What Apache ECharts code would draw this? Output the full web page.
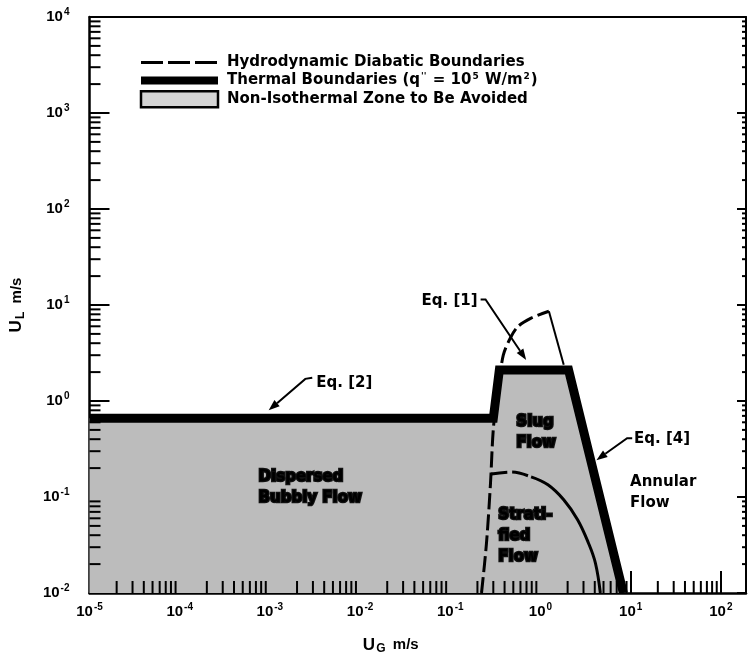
<!DOCTYPE html>
<html>
<head>
<meta charset="utf-8">
<script src="https://cdn.jsdelivr.net/npm/echarts@6/dist/echarts.min.js"></script>
<style>html,body{margin:0;background:#fff}#container{width:750px;height:660px}</style>
</head>
<body>
<div id="container"></div>
<script>
var FONT = '"Liberation Sans", Arial, sans-serif';
var WIDE = '"DejaVu Sans", sans-serif';
var X_MIN = 1e-5, X_MAX = 190, Y_MIN = 0.01, Y_MAX = 1e4;

// thermal boundary, q'' = 1e5 W/m2
var thermalUG = [1e-5, 0.30, 0.35, 2.05, 8.3];
var thermalUL = [0.66, 0.66, 2.1, 2.1, 0.01];

// hydrodynamic diabatic boundaries
var hydroUG = [0.222, 0.252, 0.279, 0.301, 0.341, 0.387, 0.462, 0.566, 0.787, 1.24];
var hydroUL = [0.01, 0.033, 0.137, 0.53, 1.37, 3.0, 4.5, 6.0, 7.3, 8.6];
var hookUG = [1.24, 1.81];
var hookUL = [8.6, 2.38];
var stratDashUG = [0.285, 0.475, 0.787];
var stratDashUL = [0.174, 0.182, 0.162];
var stratUG = [0.787, 1.21, 1.81, 2.58, 3.41, 4.07, 4.61];
var stratUL = [0.162, 0.134, 0.0936, 0.058, 0.033, 0.0204, 0.01];

// equation call-outs
var eqNames = ['Eq. [1]', 'Eq. [2]', 'Eq. [4]'];
var eqTextUG = [0.201, 0.00327, 10.9];
var eqTextUL = [10.9, 1.55, 0.40];
var eqAlign = ['right', 'left', 'left'];
var eqLeaders = [
  [[0.217, 11.4], [0.246, 11.4], [0.694, 2.68]],
  [[0.00295, 1.75], [0.00247, 1.70], [0.00097, 0.80]],
  [[10.4, 0.41], [9.13, 0.41], [4.17, 0.242]]
];

// flow regime labels
var regionNames = ['Dispersed\nBubbly Flow', 'Slug\nFlow', 'Strati-\nfied\nFlow', 'Annular\nFlow'];
var regionUG = [0.00075, 0.54, 0.341, 9.85];
var regionUL = [0.124, 0.47, 0.039, 0.11];
var regionDark = [true, true, true, false];

function zip(a, b) {
  return a.map(function (v, i) { return [v, b[i]]; });
}

// minor log ticks (2..9 per decade)
var tickData = [];
for (var k = -5; k <= 2; k++) {
  for (var m = 2; m <= 9; m++) {
    var v = m * Math.pow(10, k);
    if (v < X_MAX) tickData.push([v, Y_MIN, 0]);
  }
}
for (var k2 = -2; k2 <= 3; k2++) {
  for (var m2 = 2; m2 <= 9; m2++) {
    tickData.push([X_MIN, m2 * Math.pow(10, k2), 1]);
  }
}

function powLabel(value) {
  var e = Math.round(Math.log(value) / Math.LN10);
  if (Math.abs(Math.log(value) / Math.LN10 - e) > 1e-6) return '';
  return '{b|10}{s|' + e + '}';
}

var labelRich = {
  b: { fontFamily: FONT, fontWeight: 'bold', fontSize: 15, color: '#000', lineHeight: 20 },
  s: { fontFamily: FONT, fontWeight: 'bold', fontSize: 10, color: '#000', verticalAlign: 'top', lineHeight: 20, padding: [0, 0, 8, 1] }
};

var dom = document.getElementById('container');
var myChart = echarts.init(dom, null, { renderer: 'canvas' });
var option;

option = {
  animation: false,
  grid: { left: 84, right: 4, top: 17, bottom: 63 },
  legend: {
    orient: 'vertical',
    left: 137,
    top: 55,
    padding: 0,
    itemWidth: 77,
    itemHeight: 16,
    itemGap: 2,
    selectedMode: false,
    formatter: function (name) {
      if (name.indexOf('Thermal') === 0) {
        return 'Thermal Boundaries (q{s|\'\'} = 10{s|5} W/m{s|2})';
      }
      return name;
    },
    textStyle: {
      fontFamily: WIDE, fontWeight: 'bold', fontSize: 15, color: '#000', padding: [0, 0, 0, 4],
      rich: {
        s: { fontFamily: WIDE, fontWeight: 'bold', fontSize: 9, color: '#000', verticalAlign: 'top', padding: [0, 1, 8, 1] }
      }
    },
    data: [
      { name: 'Hydrodynamic Diabatic Boundaries', itemStyle: { opacity: 0 }, lineStyle: { width: 3, type: [22, 5], color: '#000' } },
      { name: 'Thermal Boundaries', itemStyle: { opacity: 0 }, lineStyle: { width: 8, color: '#000' } },
      { name: 'Non-Isothermal Zone to Be Avoided', icon: 'rect', itemStyle: { color: '#d4d4d4', borderColor: '#000', borderWidth: 2.5 } }
    ]
  },
  xAxis: [
    {
      type: 'log', min: X_MIN, max: X_MAX, logBase: 10,
      name: '{u|U}{sub|G} {m|m/s}',
      nameLocation: 'middle', nameGap: 42,
      nameTextStyle: {
        padding: [0, 54, 0, 0],
        rich: {
          u: { fontFamily: FONT, fontWeight: 'bold', fontSize: 17, color: '#000' },
          sub: { fontFamily: FONT, fontWeight: 'bold', fontSize: 12, color: '#000', padding: [8, 0, 0, 1] },
          m: { fontFamily: FONT, fontWeight: 'bold', fontSize: 15, color: '#000', padding: [0, 0, 0, 4] }
        }
      },
      axisLine: { lineStyle: { color: '#000', width: 2.5 } },
      axisTick: { inside: true, length: 22, lineStyle: { color: '#000', width: 2 } },
      axisLabel: { margin: 9, formatter: powLabel, rich: labelRich, showMaxLabel: false },
      splitLine: { show: false }
    },
    {
      type: 'log', min: X_MIN, max: X_MAX, position: 'top',
      axisLine: { lineStyle: { color: '#000', width: 2 } },
      axisTick: { show: false }, axisLabel: { show: false }, splitLine: { show: false }
    }
  ],
  yAxis: [
    {
      type: 'log', min: Y_MIN, max: Y_MAX, logBase: 10,
      name: '{u|U}{sub|L} {m|m/s}',
      nameLocation: 'middle', nameGap: 63, nameRotate: 90,
      nameTextStyle: {
        rich: {
          u: { fontFamily: FONT, fontWeight: 'bold', fontSize: 17, color: '#000' },
          sub: { fontFamily: FONT, fontWeight: 'bold', fontSize: 12, color: '#000', padding: [8, 0, 0, 1] },
          m: { fontFamily: FONT, fontWeight: 'bold', fontSize: 15, color: '#000', padding: [0, 0, 0, 5] }
        }
      },
      axisLine: { lineStyle: { color: '#000', width: 2.5 } },
      axisTick: { inside: true, length: 20, lineStyle: { color: '#000', width: 2 } },
      axisLabel: { margin: 20, formatter: powLabel, rich: labelRich },
      splitLine: { show: false }
    },
    {
      type: 'log', min: Y_MIN, max: Y_MAX, position: 'right',
      axisLine: { lineStyle: { color: '#000', width: 2 } },
      axisTick: { inside: true, length: 9, lineStyle: { color: '#000', width: 2 } },
      axisLabel: { show: false }, splitLine: { show: false }
    }
  ],
  series: [
    {
      name: 'Non-Isothermal Zone to Be Avoided',
      type: 'line', z: 1, symbol: 'none',
      data: zip(thermalUG, thermalUL),
      lineStyle: { width: 0, color: '#bcbcbc' },
      itemStyle: { color: '#bcbcbc' },
      areaStyle: { color: '#bcbcbc', opacity: 1 }
    },
    {
      name: 'Thermal Boundaries',
      type: 'line', z: 3, symbol: 'none',
      data: zip(thermalUG, thermalUL),
      lineStyle: { width: 9, color: '#000', join: 'miter' },
      itemStyle: { color: '#000' }
    },
    {
      name: 'Hydrodynamic Diabatic Boundaries',
      type: 'line', z: 4, symbol: 'none', smooth: 0.3,
      data: zip(hydroUG, hydroUL),
      lineStyle: { width: 3, color: '#000', type: [16, 5] },
      itemStyle: { color: '#000' }
    },
    {
      name: 'Hydrodynamic Diabatic Boundaries',
      type: 'line', z: 4, symbol: 'none', smooth: 0.4,
      data: zip(stratDashUG, stratDashUL),
      lineStyle: { width: 3, color: '#000', type: [16, 5] },
      itemStyle: { color: '#000' }
    },
    {
      name: 'stratified',
      type: 'line', z: 4, symbol: 'none', smooth: 0.4,
      data: zip(stratUG, stratUL),
      lineStyle: { width: 3, color: '#000' }
    },
    {
      name: 'hook',
      type: 'line', z: 4, symbol: 'none',
      data: zip(hookUG, hookUL),
      lineStyle: { width: 2, color: '#000' }
    },
    {
      name: 'minor ticks',
      type: 'custom', z: 5, silent: true,
      data: tickData,
      encode: { x: 0, y: 1 },
      renderItem: function (params, api) {
        var p = api.coord([api.value(0), api.value(1)]);
        if (api.value(2) === 0) {
          return { type: 'line', shape: { x1: p[0], y1: p[1], x2: p[0], y2: p[1] - 12 }, style: { stroke: '#000', lineWidth: 2 } };
        }
        var q = api.coord([X_MAX, api.value(1)]);
        return {
          type: 'group', children: [
            { type: 'line', shape: { x1: p[0], y1: p[1], x2: p[0] + 11, y2: p[1] }, style: { stroke: '#000', lineWidth: 2 } },
            { type: 'line', shape: { x1: q[0], y1: q[1], x2: q[0] - 4, y2: q[1] }, style: { stroke: '#000', lineWidth: 2 } }
          ]
        };
      }
    },
    {
      name: 'equations',
      type: 'custom', z: 6, silent: true,
      data: zip(eqTextUG, eqTextUL),
      encode: { x: 0, y: 1 },
      renderItem: function (params, api) {
        var i = params.dataIndex;
        var pts = eqLeaders[i].map(function (p) { return api.coord(p); });
        var n = pts.length, a = pts[n - 2], b = pts[n - 1];
        var ang = Math.atan2(b[1] - a[1], b[0] - a[0]);
        var L = 11, W = 4;
        var base = [b[0] - L * Math.cos(ang), b[1] - L * Math.sin(ang)];
        var head = [b,
          [base[0] + W * Math.sin(ang), base[1] - W * Math.cos(ang)],
          [base[0] - W * Math.sin(ang), base[1] + W * Math.cos(ang)]];
        var t = api.coord([api.value(0), api.value(1)]);
        return {
          type: 'group', children: [
            { type: 'polyline', shape: { points: pts.slice(0, n - 1).concat([base]) }, style: { stroke: '#000', lineWidth: 2, fill: null } },
            { type: 'polygon', shape: { points: head }, style: { fill: '#000' } },
            { type: 'text', x: t[0], y: t[1], style: { text: eqNames[i], font: 'bold 15px ' + WIDE, fill: '#000', align: eqAlign[i], verticalAlign: 'middle' } }
          ]
        };
      }
    },
    {
      name: 'regions',
      type: 'custom', z: 6, silent: true,
      data: zip(regionUG, regionUL),
      encode: { x: 0, y: 1 },
      renderItem: function (params, api) {
        var i = params.dataIndex;
        var t = api.coord([api.value(0), api.value(1)]);
        var dark = regionDark[i];
        return {
          type: 'text', x: t[0], y: t[1],
          style: {
            text: regionNames[i], font: 'bold 15px ' + WIDE, fill: '#000',
            align: 'left', verticalAlign: 'middle', lineHeight: 21,
            stroke: dark ? '#111' : null, lineWidth: dark ? 2.5 : 0
          }
        };
      }
    }
  ]
};

if (option && typeof option === 'object') {
  myChart.setOption(option);
}

window.addEventListener('resize', myChart.resize);
</script>
</body>
</html>
